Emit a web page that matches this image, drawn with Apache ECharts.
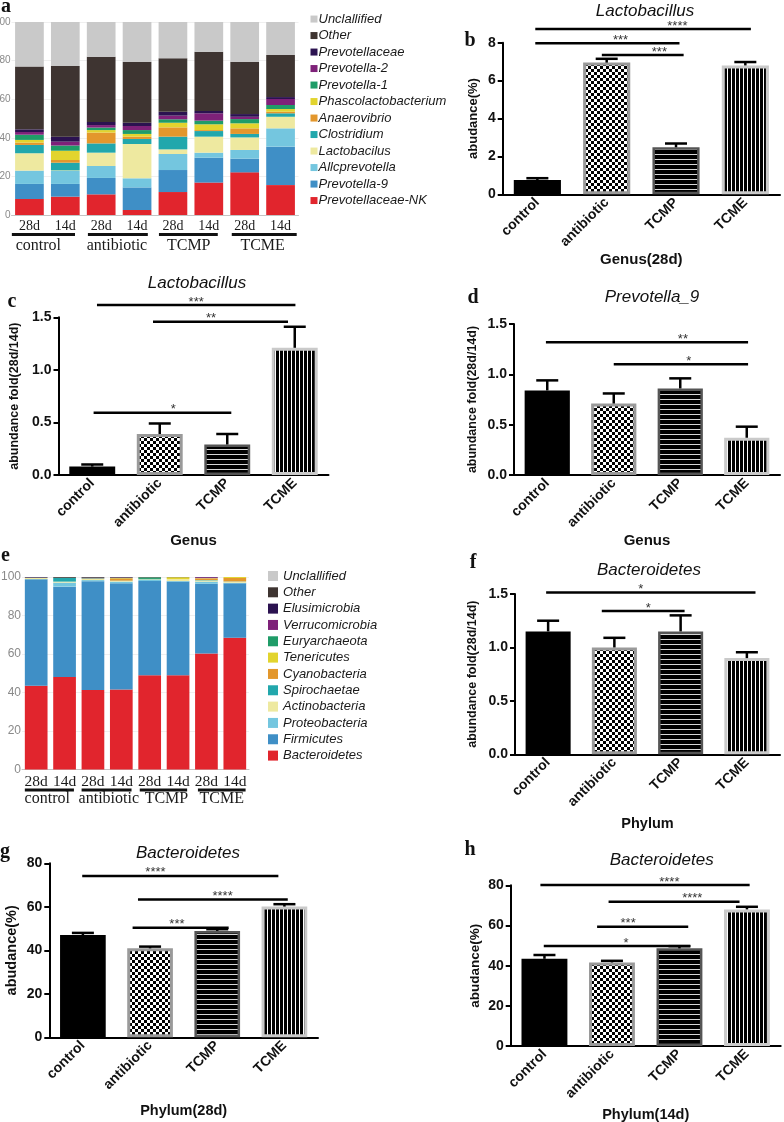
<!DOCTYPE html>
<html>
<head>
<meta charset="utf-8">
<script src="https://cdn.jsdelivr.net/npm/echarts@6/dist/echarts.min.js"></script>
<style>
  html, body { margin: 0; padding: 0; background: #fff; }
  #chart { width: 784px; height: 1122px; }
</style>
</head>
<body>
<div id="chart"></div>
<script>
  const SANS = "'Liberation Sans', Arial, Helvetica, sans-serif"
  const SERIF = "'Liberation Serif', 'Times New Roman', serif"

  // ---------- a / e : relative abundance stacks ----------
  const sampleIds = ['control 28d', 'control 14d', 'antibiotic 28d', 'antibiotic 14d', 'TCMP 28d', 'TCMP 14d', 'TCME 28d', 'TCME 14d']
  const groupNames = ['control', 'antibiotic', 'TCMP', 'TCME']
  // underline from / to and label centre, in sample index units
  const groupSpansA = [[-0.49, 1.27, 0.25], [1.63, 3.3, 2.44], [3.61, 5.25, 4.44], [5.64, 7.45, 6.5]]
  const groupSpansE = [[-0.4, 1.33, 0.39], [1.6, 3.36, 2.56], [3.65, 5.32, 4.59], [5.7, 7.38, 6.54]]

  // bottom -> top of the stack
  const genusNames = ['Prevotellaceae-NK', 'Prevotella-9', 'Allcprevotella', 'Lactobacilus', 'Clostridium', 'Anaerovibrio',
    'Phascolactobacterium', 'Prevotella-1', 'Prevotella-2', 'Prevotellaceae', 'Other', 'Unclallified']
  const genusShares = [
    [8.3, 9.5, 10.7, 2.6, 11.9, 16.8, 22.1, 15.5],
    [7.8, 6.6, 8.5, 11.7, 11.4, 12.9, 7.1, 19.9],
    [6.9, 6.7, 6.2, 4.7, 8.3, 2.6, 4.5, 9.5],
    [9.0, 0.3, 6.9, 17.8, 2.4, 8.3, 6.5, 6.0],
    [4.3, 4.0, 4.8, 2.6, 6.6, 2.9, 1.8, 1.8],
    [1.2, 1.4, 5.6, 1.2, 4.8, 0.5, 2.9, 0.8],
    [1.4, 4.8, 1.3, 1.4, 2.4, 3.0, 2.6, 1.4],
    [2.7, 2.7, 1.3, 2.0, 1.8, 1.9, 2.2, 2.1],
    [1.4, 2.0, 1.3, 2.1, 1.9, 3.8, 1.2, 3.1],
    [1.4, 2.6, 1.6, 1.7, 2.0, 1.2, 1.4, 1.0],
    [32.5, 36.6, 33.8, 31.6, 27.7, 30.7, 27.1, 21.8],
    [23.1, 22.8, 18.0, 20.6, 18.8, 15.4, 20.6, 17.1]
  ]

  const phylumNames = ['Bacteroidetes', 'Firmicutes', 'Proteobacteria', 'Actinobacteria', 'Spirochaetae', 'Cyanobacteria',
    'Tenericutes', 'Euryarchaeota', 'Verrucomicrobia', 'Elusimicrobia', 'Other', 'Unclallified']
  const phylumShares = [
    [43.5, 48.1, 41.3, 41.6, 48.9, 48.9, 60.2, 68.5],
    [55.3, 46.9, 56.5, 55.1, 49.0, 48.7, 36.3, 28.2],
    [0.1, 2.1, 0.6, 0.9, 0.6, 0.3, 1.1, 0.3],
    [0.6, 0.5, 0.7, 0.4, 0.3, 1.0, 0.6, 0.6],
    [0.1, 2.0, 0.2, 0.1, 0.2, 0.0, 0.2, 0.1],
    [0.1, 0.0, 0.1, 0.9, 0.0, 0.0, 0.8, 1.8],
    [0.0, 0.0, 0.0, 0.4, 0.0, 1.0, 0.2, 0.5],
    [0.0, 0.0, 0.0, 0.0, 0.8, 0.0, 0.0, 0.0],
    [0.0, 0.0, 0.0, 0.2, 0.0, 0.0, 0.5, 0.0],
    [0.3, 0.0, 0.3, 0.2, 0.0, 0.0, 0.1, 0.0],
    [0.0, 0.4, 0.3, 0.2, 0.2, 0.1, 0.0, 0.0],
    [0.0, 0.0, 0.0, 0.0, 0.0, 0.0, 0.0, 0.0]
  ]

  const stackColors = ['#e1252d', '#3f8fc6', '#74c6df', '#eee9a0', '#22a7ac', '#e3972c',
    '#e2d42e', '#1f9c68', '#7e2179', '#2b1250', '#3e3431', '#c9c9c9']

  // ---------- b-d, f-h : group means ----------
  const groups = ['control', 'antibiotic', 'TCMP', 'TCME']

  const lactoGenus28 = [0.75, 6.95, 2.48, 6.8]
  const lactoGenus28Err = [0.1, 0.2, 0.2, 0.18]
  // [from, to, y, stars, star centre]
  const lactoGenus28Sig = [[-0.03, 3.08, 8.72, '****', 2.02], [-0.03, 2.05, 7.97, '***', 1.2], [0.93, 2.11, 7.35, '***', 1.76]]

  const lactoFold = [0.08, 0.39, 0.29, 1.21]
  const lactoFoldErr = [0.02, 0.1, 0.1, 0.2]
  const lactoFoldSig = [[0.07, 3.01, 1.616, '***', 1.54], [0.9, 2.9, 1.457, '**', 1.76], [0.02, 2.06, 0.592, '*', 1.2]]

  const prevo9Fold = [0.84, 0.71, 0.86, 0.37]
  const prevo9FoldErr = [0.1, 0.1, 0.1, 0.11]
  const prevo9FoldSig = [[-0.02, 3.02, 1.318, '**', 2.04], [1.0, 3.02, 1.1, '*', 2.13]]

  const bactFold = [1.15, 1.0, 1.15, 0.9]
  const bactFoldErr = [0.1, 0.09, 0.15, 0.055]
  const bactFoldSig = [[-0.03, 3.13, 1.515, '*', 1.4], [0.81, 2.06, 1.34, '*', 1.51]]

  const bact28 = [47.0, 40.9, 48.9, 60.1]
  const bact28Err = [1.0, 0.8, 0.8, 1.1]
  const bact28Sig = [[-0.01, 2.91, 74.2, '****', 1.08], [0.82, 3.05, 63.4, '****', 2.08], [0.74, 2.17, 50.4, '***', 1.4]]

  const bact14 = [43.4, 41.6, 48.6, 68.0]
  const bact14Err = [1.9, 0.8, 1.1, 1.3]
  const bact14Sig = [[-0.06, 3.04, 80.1, '****', 1.85], [0.95, 2.89, 71.8, '****', 2.19], [0.78, 2.13, 59.4, '***', 1.24], [-0.01, 2.16, 49.75, '*', 1.21]]

  // 填充图案
  function makePattern(w, h, draw) {
    const c = document.createElement('canvas')
    c.width = w
    c.height = h
    draw(c.getContext('2d'))
    return { image: c, repeat: 'repeat' }
  }
  const checker = makePattern(6, 6, (ctx) => {
    ctx.fillStyle = '#fff'
    ctx.fillRect(0, 0, 6, 6)
    ctx.fillStyle = '#000'
    ctx.fillRect(0, 0, 3, 3)
    ctx.fillRect(3, 3, 3, 3)
  })
  const hStripes = makePattern(4, 5, (ctx) => {
    ctx.fillStyle = '#000'
    ctx.fillRect(0, 0, 4, 5)
    ctx.fillStyle = '#d8d8d8'
    ctx.fillRect(0, 4, 4, 1)
  })
  const vStripes = makePattern(4, 4, (ctx) => {
    ctx.fillStyle = '#fff'
    ctx.fillRect(0, 0, 4, 4)
    ctx.fillStyle = '#000'
    ctx.fillRect(0, 0, 3, 4)
  })
  const barLooks = [
    { color: '#000', borderColor: '#000', borderWidth: 0 },
    { color: checker, borderColor: '#9a9a9a', borderWidth: 3 },
    { color: hStripes, borderColor: '#555', borderWidth: 2.5 },
    { color: vStripes, borderColor: '#cacaca', borderWidth: 3 }
  ]

  const barPanels = [
    { values: lactoGenus28, err: lactoGenus28Err, sig: lactoGenus28Sig, box: { left: 502.7, top: 42.7, width: 277.3, height: 151.6 },
      max: 8, interval: 2, digits: 0, yName: 'abudance(%)', yNameFont: 13, yGap: 23, xName: 'Genus(28d)', xNameFont: 15, xGap: 58,
      title: 'Lactobacillus', titleAt: [645, 11], letter: 'b', letterAt: [470, 41] },
    { values: lactoFold, err: lactoFoldErr, sig: lactoFoldSig, box: { left: 58.5, top: 317.3, width: 270, height: 157.7 },
      max: 1.5, interval: 0.5, digits: 1, yName: 'abundance fold(28d/14d)', yNameFont: 12.5, yGap: 37, xName: 'Genus', xNameFont: 15, xGap: 47,
      title: 'Lactobacillus', titleAt: [197, 283], letter: 'c', letterAt: [12, 302] },
    { values: prevo9Fold, err: prevo9FoldErr, sig: prevo9FoldSig, box: { left: 514, top: 324, width: 266, height: 151 },
      max: 1.5, interval: 0.5, digits: 1, yName: 'abundance fold(28d/14d)', yNameFont: 12.5, yGap: 35, xName: 'Genus', xNameFont: 15, xGap: 57,
      title: 'Prevotella_9', titleAt: [652, 297], letter: 'd', letterAt: [473, 298] },
    { values: bactFold, err: bactFoldErr, sig: bactFoldSig, box: { left: 515, top: 594, width: 265, height: 160.3 },
      max: 1.5, interval: 0.5, digits: 1, yName: 'abundance fold(28d/14d)', yNameFont: 12.5, yGap: 36, xName: 'Phylum', xNameFont: 14.5, xGap: 62,
      title: 'Bacteroidetes', titleAt: [649, 570], letter: 'f', letterAt: [473, 563] },
    { values: bact28, err: bact28Err, sig: bact28Sig, box: { left: 49.3, top: 863.3, width: 268.7, height: 174 },
      max: 80, interval: 20, digits: 0, yName: 'abudance(%)', yNameFont: 14.5, yGap: 30, xName: 'Phylum(28d)', xNameFont: 14.5, xGap: 66,
      title: 'Bacteroidetes', titleAt: [188, 853], letter: 'g', letterAt: [5, 852] },
    { values: bact14, err: bact14Err, sig: bact14Sig, box: { left: 510.7, top: 885.3, width: 270, height: 160.7 },
      max: 80, interval: 20, digits: 0, yName: 'abudance(%)', yNameFont: 13.5, yGap: 28, xName: 'Phylum(14d)', xNameFont: 14.5, xGap: 61,
      title: 'Bacteroidetes', titleAt: [661.7, 860], letter: 'h', letterAt: [470, 850] }
  ]

  const grids = []
  const xAxes = []
  const yAxes = []
  const series = []
  const graphics = []

  function letterText(ch, at) {
    return { type: 'text', x: at[0], y: at[1], style: { text: ch, font: 'bold 20px ' + SERIF, fill: '#111', align: 'center', verticalAlign: 'middle' } }
  }

  function stackedPanel(gi, box, names, shares, spans, cfg) {
    grids.push(Object.assign({ outerBoundsMode: 'none' }, box))
    xAxes.push({
      type: 'category', gridIndex: gi, data: sampleIds,
      axisTick: { show: false },
      axisLine: { onZero: false, lineStyle: { color: '#c4c4c4', width: 1 } },
      axisLabel: { interval: 0, margin: 4, formatter: (s) => s.split(' ')[1], fontFamily: SERIF, fontSize: cfg.dayFont, color: '#1a1a1a' }
    })
    xAxes.push({ type: 'value', gridIndex: gi, min: -0.5, max: sampleIds.length - 0.5, show: false })
    yAxes.push({
      type: 'value', gridIndex: gi, min: 0, max: 100, interval: 20,
      axisLine: { show: false, onZero: false }, axisTick: { show: false },
      splitLine: { lineStyle: { color: '#efefef' } },
      axisLabel: { margin: 1, fontFamily: SANS, fontSize: cfg.yFont, color: '#8a8a8a' }
    })
    names.forEach((n, k) => {
      series.push({
        type: 'bar', name: n, stack: 'st' + gi, xAxisIndex: 2 * gi, yAxisIndex: gi,
        data: shares[k], barCategoryGap: '20%', itemStyle: { color: stackColors[k] },
        emphasis: { disabled: true }
      })
    })
    series.push({
      type: 'custom', xAxisIndex: 2 * gi + 1, yAxisIndex: gi, silent: true, z: 5,
      data: spans.map((s) => [s[0], s[1], s[2]]),
      renderItem(params, api) {
        const s = spans[params.dataIndex]
        const a = api.coord([s[0], 0])
        const b = api.coord([s[1], 0])
        const c = api.coord([s[2], 0])
        return {
          type: 'group',
          children: [
            { type: 'line', shape: { x1: a[0], y1: a[1] + cfg.lineDy, x2: b[0], y2: b[1] + cfg.lineDy }, style: { stroke: '#111', lineWidth: 3 } },
            { type: 'text', x: c[0], y: c[1] + cfg.textDy, style: { text: groupNames[params.dataIndex], font: cfg.groupFont + 'px ' + SERIF, fill: '#1a1a1a', align: 'center', verticalAlign: 'middle' } }
          ]
        }
      }
    })
  }

  function barPanel(gi, p) {
    const nameStyle = (size) => ({ fontFamily: SANS, fontWeight: 'bold', fontSize: size, color: '#111' })
    grids.push(Object.assign({ outerBoundsMode: 'none' }, p.box))
    xAxes.push({
      type: 'category', gridIndex: gi, data: groups,
      name: p.xName, nameLocation: 'middle', nameGap: p.xGap, nameTextStyle: nameStyle(p.xNameFont),
      axisLine: { onZero: false, lineStyle: { color: '#000', width: 2 } },
      axisTick: { alignWithLabel: true, length: 5, lineStyle: { color: '#000', width: 2 } },
      axisLabel: { interval: 0, rotate: 45, margin: 6, fontFamily: SANS, fontWeight: 'bold', fontSize: 14, color: '#111' }
    })
    xAxes.push({ type: 'value', gridIndex: gi, min: -0.5, max: groups.length - 0.5, show: false })
    yAxes.push({
      type: 'value', gridIndex: gi, min: 0, max: p.max, interval: p.interval,
      name: p.yName, nameLocation: 'middle', nameGap: p.yGap, nameTextStyle: nameStyle(p.yNameFont),
      axisLine: { show: true, onZero: false, lineStyle: { color: '#000', width: 2 } },
      axisTick: { show: true, length: 5, lineStyle: { color: '#000', width: 2 } },
      splitLine: { show: false },
      axisLabel: { margin: 7, fontFamily: SANS, fontWeight: 'bold', fontSize: 14, color: '#111', formatter: (v) => v.toFixed(p.digits) }
    })
    series.push({
      type: 'bar', xAxisIndex: 2 * gi, yAxisIndex: gi, barWidth: '68%', z: 2,
      data: p.values.map((v, i) => ({ value: v, itemStyle: barLooks[i] })),
      emphasis: { disabled: true }
    })
    // 误差线
    series.push({
      type: 'custom', xAxisIndex: 2 * gi + 1, yAxisIndex: gi, silent: true, z: 3,
      data: p.values.map((v, i) => [i, v, p.err[i]]),
      renderItem(params, api) {
        const i = api.value(0)
        const v = api.value(1)
        const e = api.value(2)
        const lo = api.coord([i, v])
        const hi = api.coord([i, v + e])
        const line = { stroke: '#000', lineWidth: 2.5 }
        return {
          type: 'group',
          children: [
            { type: 'line', shape: { x1: lo[0], y1: lo[1], x2: hi[0], y2: hi[1] }, style: line },
            { type: 'line', shape: { x1: hi[0] - 11, y1: hi[1], x2: hi[0] + 11, y2: hi[1] }, style: line }
          ]
        }
      }
    })
    // 显著性标注
    series.push({
      type: 'custom', xAxisIndex: 2 * gi + 1, yAxisIndex: gi, silent: true, z: 4,
      data: p.sig.map((s) => [s[0], s[1], s[2], s[4]]),
      renderItem(params, api) {
        const s = p.sig[params.dataIndex]
        const a = api.coord([s[0], s[2]])
        const b = api.coord([s[1], s[2]])
        const c = api.coord([s[4], s[2]])
        return {
          type: 'group',
          children: [
            { type: 'line', shape: { x1: a[0], y1: a[1], x2: b[0], y2: b[1] }, style: { stroke: '#000', lineWidth: 2.5 } },
            { type: 'text', x: c[0], y: c[1] - 3, style: { text: s[3], font: '13px ' + SANS, fill: '#333', align: 'center', verticalAlign: 'middle' } }
          ]
        }
      }
    })
    graphics.push({ type: 'text', x: p.titleAt[0], y: p.titleAt[1], style: { text: p.title, font: 'italic 17px ' + SANS, fill: '#111', align: 'center', verticalAlign: 'middle' } })
    graphics.push(letterText(p.letter, p.letterAt))
  }

  stackedPanel(0, { left: 11.5, top: 22, width: 287, height: 193 }, genusNames, genusShares, groupSpansA,
    { dayFont: 14, yFont: 10, groupFont: 16, lineDy: 19.5, textDy: 30.5 })
  stackedPanel(1, { left: 22, top: 577, width: 227, height: 192.5 }, phylumNames, phylumShares, groupSpansE,
    { dayFont: 15.5, yFont: 12, groupFont: 16, lineDy: 20.5, textDy: 29 })
  graphics.push(letterText('a', [6, 7]))
  graphics.push(letterText('e', [5.5, 556]))
  barPanels.forEach((p, k) => barPanel(k + 2, p))

  const legendText = (size, lh, pad) => ({ fontFamily: SANS, fontStyle: 'italic', fontSize: size, color: '#1a1a1a', lineHeight: lh, padding: pad })

  const chart = echarts.init(document.getElementById('chart'))
  chart.setOption({
    animation: false,
    backgroundColor: '#fff',
    legend: [
      { data: genusNames.slice().reverse(), orient: 'vertical', left: 310.5, top: 10.8, padding: 0, itemWidth: 7, itemHeight: 7, itemGap: 0,
        icon: 'rect', selectedMode: false, textStyle: legendText(13, 16.5, [0, 0, 0, -4]) },
      { data: phylumNames.slice().reverse(), orient: 'vertical', left: 268, top: 567.8, padding: 0, itemWidth: 10, itemHeight: 10, itemGap: 0,
        icon: 'rect', selectedMode: false, textStyle: legendText(13, 16.33, 0) }
    ],
    grid: grids,
    xAxis: xAxes,
    yAxis: yAxes,
    series: series,
    graphic: graphics
  })
</script>
</body>
</html>
